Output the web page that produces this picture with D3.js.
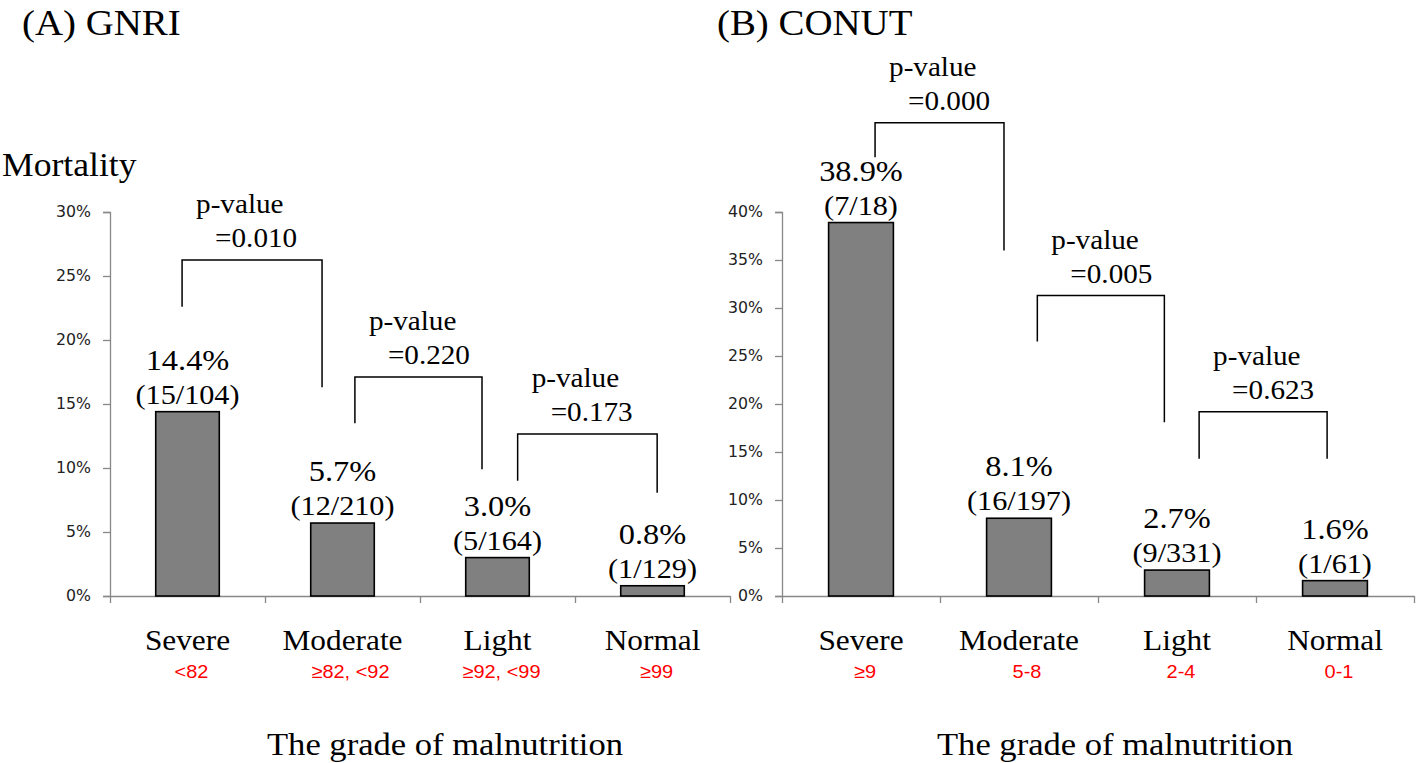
<!DOCTYPE html>
<html><head><meta charset="utf-8">
<script src="https://cdn.jsdelivr.net/npm/d3@7"></script>
<style>
html,body{margin:0;padding:0;background:#fff;}
svg{display:block;}
</style></head>
<body>
<svg id="chart" width="1418" height="763"></svg>
<script>
// ---------- data ----------
const categories = ["Severe", "Moderate", "Light", "Normal"];
const rangesA = ["<82", "\u226582, <92", "\u226592, <99", "\u226599"];
const rangesB = ["\u22659", "5-8", "2-4", "0-1"];
const valuesA = [14.4, 5.7, 3.0, 0.8];
const valuesB = [38.9, 8.1, 2.7, 1.6];
const countsA = ["(15/104)", "(12/210)", "(5/164)", "(1/129)"];
const countsB = ["(7/18)", "(16/197)", "(9/331)", "(1/61)"];
const ticksA = [0, 5, 10, 15, 20, 25, 30];
const ticksB = [0, 5, 10, 15, 20, 25, 30, 35, 40];
const pValuesA = ["=0.010", "=0.220", "=0.173"];
const pValuesB = ["=0.000", "=0.005", "=0.623"];
// brackets in data units: [left position, right position (category units), top %, left-leg end %, right-leg end %]
const bracketsA = [[0.465, 1.368, 26.25, 22.6, 16.3], [1.58, 2.40, 17.1, 13.5, 9.9], [2.63, 3.53, 12.66, 9.0, 8.07]];
const bracketsB = [[0.589, 1.405, 49.3, 45.7, 36.0], [1.616, 2.42, 31.3, 26.5, 18.1], [2.64, 3.45, 19.2, 14.3, 14.3]];
const titleA = "(A) GNRI", titleB = "(B) CONUT";
const yTitle = "Mortality";
const xTitle = "The grade of malnutrition";

// ---------- drawing ----------
const svg = d3.select("#chart");
const SERIF = "'Liberation Serif','Times New Roman',serif";
const SANS = "'DejaVu Sans',Verdana,sans-serif";
const ARIAL = "'Liberation Sans',Arial,sans-serif";
const SX = 1.08;

function txt(g, x, y, s, opt) {
  const t = g.append("text")
    .attr("transform", `translate(${x},${y}) scale(${opt.sx || SX},1)`)
    .attr("font-family", opt.family || SERIF)
    .attr("font-size", opt.size)
    .attr("fill", opt.fill || "#000")
    .attr("text-anchor", opt.anchor || "start")
    .text(s);
  return t;
}

function panel(cfg) {
  const g = svg.append("g");
  const x = d3.scaleBand().domain(categories).range([cfg.x0, cfg.x1]).paddingInner(0.59).paddingOuter(0.295);
  const pos = d3.scaleLinear().domain([0, categories.length]).range([cfg.x0, cfg.x1]);
  const y = d3.scaleLinear().domain([0, cfg.ymax]).range([596, 212]);

  // y axis
  const ya = d3.axisLeft(y).tickValues(cfg.ticks).tickFormat(d => d + "%").tickSize(7).tickPadding(11);
  const yg = g.append("g").attr("transform", `translate(${cfg.x0},0)`).call(ya);
  yg.attr("font-size", 15);
  yg.select(".domain").attr("stroke", "#888").attr("stroke-width", 1.3);
  yg.selectAll(".tick line").attr("stroke", "#888").attr("stroke-width", 1.3);
  yg.selectAll(".tick text").attr("font-family", SANS).attr("font-size", 15).attr("fill", "#222")
    .attr("transform", `scale(1.05,1)`).attr("x", -19 / 1.05);

  // x axis (ticks at category boundaries)
  const xa = d3.axisBottom(pos).tickValues(d3.range(0, categories.length + 1)).tickSize(7).tickFormat("").tickSizeOuter(0);
  const xg = g.append("g").attr("transform", `translate(0,${y(0)})`).call(xa);
  xg.select(".domain").attr("stroke", "#888").attr("stroke-width", 1.3);
  xg.selectAll(".tick line").attr("stroke", "#888").attr("stroke-width", 1.3);

  // bars
  g.selectAll("rect.bar").data(cfg.values).join("rect")
    .attr("class", "bar")
    .attr("x", (d, i) => x(categories[i]))
    .attr("width", x.bandwidth())
    .attr("y", d => y(d))
    .attr("height", d => y(0) - y(d))
    .attr("fill", "#808080").attr("stroke", "#000").attr("stroke-width", 1.6);

  // value labels
  cfg.values.forEach((v, i) => {
    const cx = x(categories[i]) + x.bandwidth() / 2;
    txt(g, cx, y(v) - 42, v.toFixed(1) + "%", { size: 30, anchor: "middle" });
    txt(g, cx, y(v) - 8, cfg.counts[i], { size: 28, anchor: "middle" });
  });

  // category labels
  categories.forEach((c, i) => {
    const cx = x(c) + x.bandwidth() / 2;
    txt(g, cx, 650, c, { size: 29, anchor: "middle" });
    txt(g, cx + (i === 1 ? 8 : 4), 678, cfg.ranges[i], { size: 19, anchor: "middle", family: ARIAL, fill: "#ff0000", sx: 1.05 });
  });

  // brackets
  cfg.brackets.forEach((b, i) => {
    const [l, r, top, le, re] = b;
    const path = d3.path();
    path.moveTo(pos(l), y(le));
    path.lineTo(pos(l), y(top));
    path.lineTo(pos(r), y(top));
    path.lineTo(pos(r), y(re));
    g.append("path").attr("d", path.toString()).attr("fill", "none").attr("stroke", "#000").attr("stroke-width", 1.5);
    txt(g, pos(l) + 14, y(top) - 47, "p-value", { size: 27 });
    txt(g, pos(l) + 33, y(top) - 13, cfg.pvals[i], { size: 27 });
  });

  // titles
  txt(g, cfg.titleX, 35, cfg.title, { size: 36 });
  txt(g, (cfg.x0 + cfg.x1) / 2 + cfg.xTitleOff, 755, xTitle, { size: 32, anchor: "middle" });
  return g;
}

panel({ x0: 110, x1: 730, ymax: 30, ticks: ticksA, values: valuesA, counts: countsA, ranges: rangesA,
        brackets: bracketsA, pvals: pValuesA, title: titleA, titleX: 22, xTitleOff: 25 });
panel({ x0: 782, x1: 1414, ymax: 40, ticks: ticksB, values: valuesB, counts: countsB, ranges: rangesB,
        brackets: bracketsB, pvals: pValuesB, title: titleB, titleX: 717, xTitleOff: 17 });

txt(svg, 2, 176, yTitle, { size: 33 });
</script>
</body></html>
